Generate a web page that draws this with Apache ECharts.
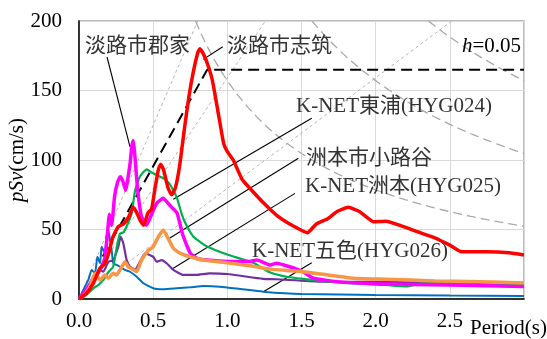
<!DOCTYPE html>
<html><head><meta charset="utf-8">
<script src="https://cdn.jsdelivr.net/npm/echarts/dist/echarts.min.js"></script>
<style>html,body{margin:0;padding:0;background:#fff}#c{width:547px;height:339px}</style>
</head><body><div id="c"></div>
<script>
// ---- data ----
const xTickLabels = ['0.0','0.5','1.0','1.5','2.0','2.5'];
const yTickLabels = ['0','50','100','150','200'];

// 淡路市志筑 (red)
const shizukiT = [0,0.05,0.1,0.14,0.17,0.2,0.23,0.265,0.3,0.335,0.366,0.39,0.41,0.435,0.465,0.49,0.51,0.535,0.55,0.57,0.6,0.625,0.65,0.68,0.71,0.74,0.77,0.8,0.815,0.84,0.87,0.9,0.94,0.975,1.0,1.04,1.1,1.175,1.245,1.335,1.42,1.54,1.6,1.68,1.74,1.815,1.89,1.985,2.07,2.165,2.28,2.39,2.5,2.58,2.75,2.9,3.0];
const shizukiV = [0,4,12,22,25,33,45,52,54,59,66,62,57,53,62,65,78,93,97,93,80,75,80,97,122,145,163,177,180,176,168,157,133,112,106,100,86,77,69,60,54,47.7,54,58,63,66,63,55.6,56,53,48.4,44.4,38.8,34,34,33.3,31.7];

// 淡路市郡家 (magenta)
const gunkeT = [0,0.05,0.08,0.1,0.13,0.155,0.175,0.19,0.205,0.22,0.24,0.26,0.278,0.295,0.315,0.33,0.345,0.356,0.366,0.376,0.39,0.4,0.42,0.455,0.49,0.525,0.568,0.61,0.66,0.7,0.75,0.8,0.86,1.0,1.15,1.2,1.29,1.33,1.42,1.51,1.58,1.74,2.0,2.5,3.0];
const gunkeV = [0,7,12,16,19,24,30,45,61,53,74,84,88,85,78,87,98,110,114,104,85,74,60,53,61,69,72.4,67.6,62,46,33,29,28,27,27,28,24.5,25.7,23.2,19.6,15,12.5,11,10,9];

// K-NET東浦(HYG024) (green)
const higashiuraT = [0,0.05,0.1,0.13,0.165,0.2,0.23,0.255,0.276,0.3,0.32,0.355,0.378,0.41,0.456,0.5,0.57,0.61,0.636,0.66,0.69,0.715,0.77,0.86,1.0,1.175,1.29,1.4,1.51,1.74,2.0,2.21,2.3,2.5,3.0];
const higashiuraV = [0,3,8,10,14,19.6,23,37.6,47,48,52,61.6,78,88,93.3,90.4,86.8,83,78,73,62,55,45,38,32,26,19,16,14.5,12,10.5,9,11,11,10];

// 洲本市小路谷 (orange)
const kojiyaT = [0,0.03,0.074,0.108,0.125,0.142,0.175,0.198,0.231,0.254,0.288,0.31,0.332,0.366,0.389,0.422,0.467,0.5,0.535,0.568,0.6,0.636,0.68,0.75,0.84,1.0,1.175,1.29,1.4,1.51,1.63,1.85,2.07,2.4,2.7,3.0];
const kojiyaV = [0,2,9,18.5,16,13.7,17.3,15,18.5,17.3,23.2,26.8,23.2,21,19.6,28,35,37.6,44.8,49.6,43.7,36.5,33,30.4,28,26,23.5,21.5,20.5,19.6,18,15,14.2,13,12.5,11.5];

// K-NET洲本(HYG025) (purple)
const sumotoT = [0,0.05,0.096,0.142,0.164,0.198,0.231,0.265,0.281,0.299,0.321,0.344,0.378,0.411,0.445,0.5,0.524,0.557,0.591,0.636,0.703,0.79,0.88,1.0,1.24,1.33,1.62,2.07,2.52,3.0];
const sumotoV = [0,6,13.7,21,19.6,26.8,28,37.6,44.8,40,28,23.2,21,26.8,32.9,30.4,26.8,28,25.7,21,17.3,17.3,18.5,18,14.5,14.2,12.5,12.3,11.3,9.2];

// K-NET五色(HYG026) (blue)
const goshikiT = [0,0.029,0.063,0.085,0.108,0.124,0.142,0.153,0.175,0.186,0.198,0.209,0.22,0.231,0.254,0.276,0.31,0.344,0.389,0.434,0.5,0.568,0.659,0.75,0.84,0.95,1.1,1.24,1.5,2.0,2.5,3.0];
const goshikiV = [0,6.5,13.7,20.9,18.5,30.4,25.7,37.6,32.9,44.8,49.6,42.4,35.3,25.7,24.5,23.2,20.9,19.6,16,11.3,7.7,7,7.7,8.4,9.4,8.9,7,5.3,3.6,2.9,2.5,2.2];

// design spectrum (black dashed)
const designT = [0.16,0.864,3.0];
const designV = [30.6,165,165];

// tripartite guide constants
const guideAccel = [500,1000,1570];   // cm/s^2
const guideDisp = [25,50,75];         // cm

// leader lines [T1,v1,T2,v2]
const leaderGunke = [0.189,174.1,0.344,109.4];
const leaderShizuki = [0.969,181.5,0.838,172.4];
const leaderHigashiura = [1.569,130,0.636,71.7];
const leaderKojiya = [1.479,101.2,0.602,43.2];
const leaderSumoto = [1.456,76,0.625,21.4];
const leaderGoshiki = [1.569,26.1,1.243,5.25];

// ---- build ----
const serif = "'Liberation Serif','Times New Roman','Noto Sans CJK JP',serif";
const mixed = "'Liberation Serif','Noto Sans CJK JP',serif";
const zip = (t,v)=>t.map((x,i)=>[x,v[i]]);
const TWO_PI = 2*Math.PI;

const series = [];
guideAccel.forEach(sa=>{
  const tEnd = Math.min(3, 200*TWO_PI/sa);
  series.push({type:'line',data:[[0,0],[tEnd,sa*tEnd/TWO_PI]],symbol:'none',silent:true,
    lineStyle:{color:'#b4b4b4',width:1,type:[3,3]},z:1});
});
guideDisp.forEach(sd=>{
  const t0 = TWO_PI*sd/200; const pts=[];
  for(let i=0;i<=80;i++){const t=t0+(3-t0)*i/80; pts.push([t,TWO_PI*sd/t]);}
  series.push({type:'line',data:pts,symbol:'none',silent:true,
    lineStyle:{color:'#a8a8a8',width:1.3,type:[9,5]},z:1});
});
series.push({type:'line',data:zip(designT,designV),symbol:'none',
  lineStyle:{color:'#000',width:2,type:[11,6]},z:2});

[leaderGunke,leaderShizuki,leaderHigashiura,leaderKojiya,leaderSumoto,leaderGoshiki].forEach(l=>{
  series.push({type:'line',data:[[l[0],l[1]],[l[2],l[3]]],symbol:'none',
    lineStyle:{color:'#000',width:1.1},z:3});
});

const curves = [
  [goshikiT,goshikiV,'#0070C0',2],
  [sumotoT,sumotoV,'#7030A0',2.2],
  [higashiuraT,higashiuraV,'#00B050',2.2],
  [gunkeT,gunkeV,'#FF00FF',3.5],
  [kojiyaT,kojiyaV,'#F79646',3.5],
  [shizukiT,shizukiV,'#FF0000',3.5]
];
curves.forEach(c=>{
  series.push({type:'line',data:zip(c[0],c[1]),symbol:'none',smooth:0.15,
    lineStyle:{color:c[2],width:c[3]},z:4});
});

const textLabels = [
  ['淡路市郡家',85,46],
  ['淡路市志筑',227,46],
  ['K-NET東浦(HYG024)',296,106],
  ['洲本市小路谷',306,158],
  ['K-NET洲本(HYG025)',305,186.5],
  ['K-NET五色(HYG026)',252,251.5]
];
const graphic = textLabels.map(l=>({type:'text',x:l[1],y:l[2],z:100,
  style:{text:l[0],font:'21px '+mixed,fill:'#333333',align:'left',verticalAlign:'middle'}}));
graphic.push({type:'text',x:462,y:46,z:100,style:{text:'{i|h}=0.05',font:'21px '+serif,fill:'#000',
  align:'left',verticalAlign:'middle',rich:{i:{fontStyle:'italic',fontSize:21,fontFamily:serif}}}});
graphic.push({type:'text',x:470,y:328,z:100,style:{text:'Period(s)',font:'21px '+serif,fill:'#000',
  align:'left',verticalAlign:'middle'}});

const chart = echarts.init(document.getElementById('c'),null,{renderer:'canvas'});
chart.setOption({
  animation:false,
  backgroundColor:'#fff',
  grid:{left:79,right:23,top:21,bottom:40,containLabel:false,outerBoundsMode:'none',
    show:true,borderColor:'#a6a6a6',borderWidth:1.5,backgroundColor:'transparent'},
  xAxis:{type:'value',min:0,max:3,interval:0.5,
    axisLine:{show:true,onZero:false,lineStyle:{color:'#000',width:1.5}},
    axisTick:{show:false},
    splitLine:{show:true,lineStyle:{color:'#d9d9d9',width:1}},
    axisLabel:{margin:12,fontSize:21,fontFamily:serif,color:'#000',
      formatter:v=>{const i=Math.round(v/0.5);return xTickLabels[i]||'';}}},
  yAxis:{type:'value',min:0,max:200,interval:50,
    name:'{i|pSv}(cm/s)',nameLocation:'middle',nameRotate:90,nameGap:51,nameMoveOverlap:false,
    nameTextStyle:{fontSize:21,fontFamily:serif,color:'#000',rich:{i:{fontStyle:'italic',fontSize:21,fontFamily:serif,color:'#000'}}},
    axisLine:{show:true,onZero:false,lineStyle:{color:'#000',width:1.5}},
    axisTick:{show:false},
    splitLine:{show:true,lineStyle:{color:'#d9d9d9',width:1}},
    axisLabel:{margin:17,fontSize:21,fontFamily:serif,color:'#000',
      formatter:v=>{const i=Math.round(v/50);return yTickLabels[i]||'';}}},
  series:series,
  graphic:graphic
});
</script></body></html>
